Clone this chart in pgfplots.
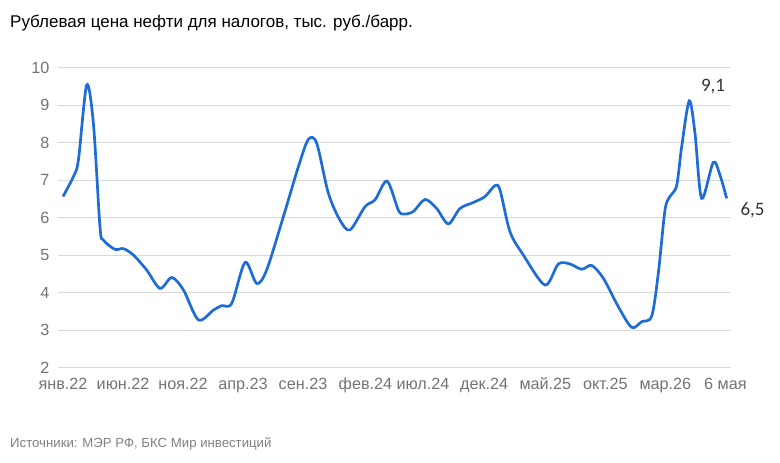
\documentclass[border=0pt]{standalone}
\usepackage{fontspec}
\setmainfont{Liberation Sans}
\newfontfamily\calib{Carlito}
\usepackage{pgfplots}
\pgfplotsset{compat=1.18}
\definecolor{lineblue}{RGB}{30,108,214}
\definecolor{gridgray}{RGB}{217,217,217}
\definecolor{ticktext}{RGB}{115,115,115}
\definecolor{srcgray}{RGB}{128,128,128}
\begin{document}
\begin{tikzpicture}[x=1pt,y=1pt]
\path[use as bounding box] (0,0) rectangle (780,463);
\node[anchor=base west,inner sep=0pt,font=\fontsize{17}{20}\selectfont] at (10,435.7) {Рублевая цена нефти для налогов, тыс. руб./барр.};
\node[anchor=base west,inner sep=0pt,text=srcgray,font=\fontsize{13.2}{15}\selectfont] at (10,15) {Источники: МЭР РФ, БКС Мир инвестиций};
\begin{axis}[
  at={(58pt,95.5pt)}, anchor=south west,
  scale only axis, width=673pt, height=300pt,
  xmin=-0.42, xmax=55.67, ymin=2, ymax=10,
  axis line style={draw=none},
  tick style={draw=none},
  ytick={2,3,...,10},
  ymajorgrids, grid style={gridgray, line width=0.8pt},
  xtick={0,5,10,15,20,25.2,30,35.1,40.2,45.2,50.2,55.2},
  xticklabels={янв.22,июн.22,ноя.22,апр.23,сен.23,фев.24,июл.24,дек.24,май.25,окт.25,мар.26,6 мая},
  ticklabel style={text=ticktext, font=\fontsize{16.2}{19}\selectfont},
  yticklabel style={xshift=-5pt},
  xticklabel style={yshift=-6pt, text height=12pt, text depth=3pt},
  /pgf/number format/assume math mode=true,
  clip=false,
]
\addplot[lineblue, line width=2.7pt, smooth, tension=0.5] coordinates {
(0,6.56) (0.86,7.09) (1.28,7.53) (1.97,9.53) (2.53,8.51) (3.08,5.75) (3.36,5.40)
(4.33,5.15) (5.03,5.17) (5.86,5.0) (6.97,4.6) (8.08,4.11) (9.06,4.40) (10.03,4.07)
(11.28,3.27) (12.53,3.53) (13.22,3.65) (14.06,3.71) (15.17,4.80) (16.14,4.24)
(16.97,4.6) (18.36,6.02) (19.61,7.35) (20.44,8.08) (21.14,7.98) (22.11,6.65)
(23.08,5.93) (23.92,5.67) (25.17,6.29) (26.0,6.47) (27.0,6.97) (27.94,6.2)
(28.36,6.09) (29.19,6.16) (30.17,6.48) (31.14,6.24) (32.11,5.83) (33.08,6.24)
(34.19,6.40) (35.17,6.56) (36.0,6.85) (36.42,6.73) (37.25,5.62) (38.36,5.0)
(40.17,4.2) (41.28,4.76) (42.25,4.76) (43.22,4.62) (44.06,4.72) (45.03,4.38)
(46.28,3.62) (47.39,3.07) (48.22,3.22) (49.06,3.37) (49.61,4.51) (50.17,6.2)
(50.58,6.56) (51.14,6.85) (51.56,7.89) (52.19,9.11) (52.67,8.24) (53.22,6.51)
(54.19,7.47) (54.75,7.13) (55.31,6.51)
};
\node[text=black!80, font=\calib\fontsize{19}{22}\selectfont] at (axis cs:54.17,9.49) {9,1};
\node[text=black!80, font=\calib\fontsize{19}{22}\selectfont] at (axis cs:57.47,6.18) {6,5};
\end{axis}
\end{tikzpicture}
\end{document}
